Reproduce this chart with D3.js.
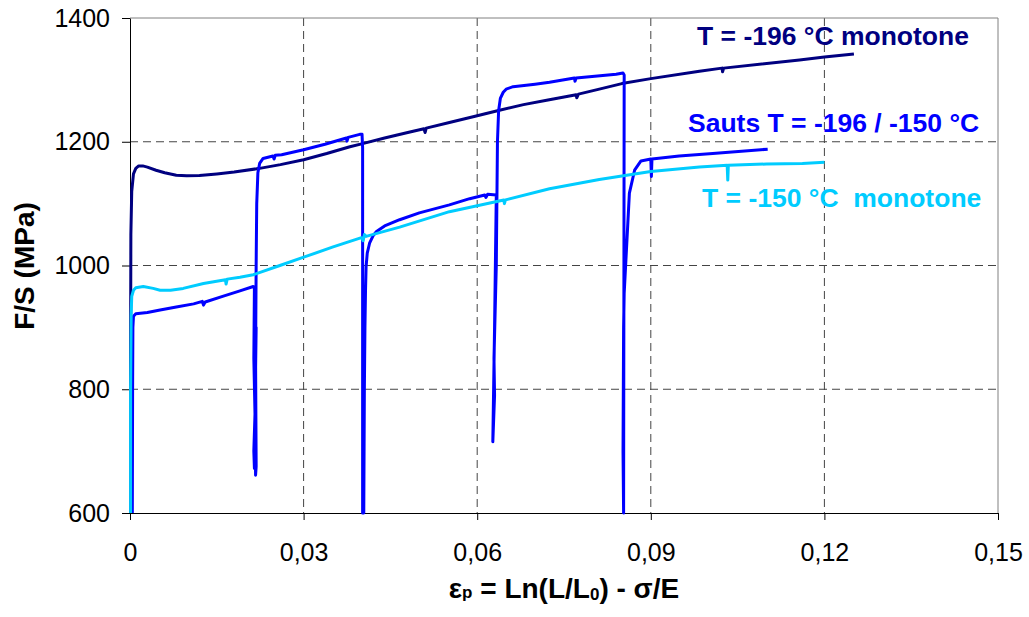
<!DOCTYPE html>
<html><head><meta charset="utf-8">
<script src="https://cdn.jsdelivr.net/npm/d3@7"></script>
<style>
html,body{margin:0;padding:0;background:#fff;}
text{font-family:"Liberation Sans",Arial,sans-serif;}
</style></head>
<body>
<svg id="chart" width="1029" height="617"></svg>
<script>
// ---- data (strain εp, stress MPa) ----
const xTicks = [0, 0.03, 0.06, 0.09, 0.12, 0.15];
const yTicks = [600, 800, 1000, 1200, 1400];

const mono196 = [[0.0001,600],[0.0001,850],[0.00015,1050],[0.0003,1120],[0.0006,1148],[0.001,1157],[0.0015,1161],[0.0022,1161],[0.003,1159],[0.0045,1154],[0.006,1150],[0.008,1146],[0.0098,1145],[0.012,1145.5],[0.015,1148],[0.018,1151],[0.0224,1157],[0.026,1163],[0.03,1171],[0.034,1181],[0.038,1192],[0.0402,1197],[0.044,1206],[0.048,1215],[0.0508,1221],[0.051,1215],[0.0512,1222],[0.0552,1231],[0.06,1242],[0.0635,1250],[0.068,1260],[0.072,1267],[0.0771,1276],[0.0772,1271],[0.0775,1277],[0.0811,1285],[0.085,1294],[0.09,1302],[0.0984,1314],[0.1023,1319],[0.1024,1313],[0.1026,1319],[0.1157,1332],[0.12,1337],[0.1251,1342]];

const sauts = [[0.0004,600],[0.00045,800],[0.0005,900],[0.0006,918],[0.001,922],[0.003,924],[0.0052,928],[0.008,933],[0.011,938],[0.0125,942],[0.0127,936],[0.013,941],[0.016,950],[0.019,959],[0.0213,966],[0.0215,965],[0.0214,850],[0.0216,760],[0.0214,700],[0.0215,672],[0.0217,690],[0.0216,820],[0.0218,900],[0.0216,760],[0.0217,661],[0.0218,675],[0.0217,850],[0.0218,1000],[0.0219,1100],[0.0221,1150],[0.0224,1165],[0.023,1173],[0.0247,1177],[0.0249,1172],[0.0251,1178],[0.0262,1179],[0.03,1187],[0.0337,1196],[0.0374,1206],[0.0375,1201],[0.0377,1207],[0.0397,1212],[0.0401,1212],[0.0402,1190],[0.0402,600],[0.0404,600],[0.0405,800],[0.0406,900],[0.0407,960],[0.0408,998],[0.041,1020],[0.0414,1036],[0.042,1048],[0.0426,1055],[0.044,1064],[0.0466,1074],[0.05,1085],[0.0552,1098],[0.0587,1108],[0.0613,1114],[0.0615,1110],[0.0618,1115],[0.0633,1114],[0.063,900],[0.0627,715],[0.063,790],[0.0629,850],[0.0633,1000],[0.0635,1200],[0.0637,1250],[0.064,1270],[0.0645,1280],[0.065,1285],[0.0662,1289],[0.07,1293],[0.0725,1296],[0.0768,1303],[0.0769,1298],[0.0771,1303],[0.084,1309],[0.0852,1311],[0.0854,1308],[0.0853,600],[0.0852,700],[0.0853,900],[0.0854,955],[0.0857,1009],[0.0863,1117],[0.0872,1154],[0.0883,1169],[0.09,1172],[0.0901,1144],[0.0902,1172],[0.0949,1177],[0.1007,1181],[0.1102,1188]];

const mono150 = [[0.0001,600],[0.0001,800],[0.0002,920],[0.0003,950],[0.0006,960],[0.001,964],[0.0023,966],[0.004,963],[0.0052,960],[0.007,960],[0.0092,963],[0.0127,971],[0.0165,977],[0.0166,970],[0.0168,978],[0.019,981],[0.0213,985],[0.0259,1000],[0.0299,1013],[0.0351,1030],[0.04,1045],[0.0403,1040],[0.0405,1050],[0.0408,1047],[0.0466,1062],[0.0552,1087],[0.0646,1106],[0.0647,1100],[0.0649,1106],[0.0725,1124],[0.0811,1139],[0.09,1152],[0.0984,1159],[0.1032,1162],[0.1033,1138],[0.1034,1162],[0.11,1164],[0.1162,1165],[0.12,1167]];

const seriesNames = ["T = -196 °C monotone", "Sauts T = -196 / -150 °C", "T = -150 °C  monotone"];
const seriesColors = ["#000080", "#0000FF", "#00CCFF"];

// ---- layout ----
const svg = d3.select("#chart");
const L = 130, R = 998, T = 18, B = 513;
const x = d3.scaleLinear().domain([0, 0.15]).range([L, R]);
const y = d3.scaleLinear().domain([600, 1400]).range([B, T]);
const fmtX = d => d === 0 ? "0" : d3.format(".2f")(d).replace(".", ",");

// grid
const grid = svg.append("g");
grid.selectAll("line.v").data(xTicks.filter(d => d > 0 && d < 0.15)).enter().append("line")
  .attr("x1", d => x(d)).attr("x2", d => x(d)).attr("y1", T).attr("y2", B)
  .attr("stroke", "#444").attr("stroke-width", 1).attr("stroke-dasharray", "8,5");
grid.selectAll("line.h").data(yTicks.filter(d => d > 600 && d < 1400)).enter().append("line")
  .attr("x1", L).attr("x2", R).attr("y1", d => y(d)).attr("y2", d => y(d))
  .attr("stroke", "#444").attr("stroke-width", 1).attr("stroke-dasharray", "8,5");
// top / right border
svg.append("path").attr("d", `M${L},${y(1400)}H${R}V${B}`).attr("fill", "none")
  .attr("stroke", "#808080").attr("stroke-width", 1);

// axes
const ax = svg.append("g").attr("transform", `translate(0,${B})`)
  .call(d3.axisBottom(x).tickValues(xTicks).tickFormat(fmtX).tickSize(7).tickSizeOuter(0).tickPadding(23));
const ay = svg.append("g").attr("transform", `translate(${L},0)`)
  .call(d3.axisLeft(y).tickValues(yTicks).tickFormat(d3.format("d")).tickSize(8).tickSizeOuter(0).tickPadding(12));
[ax, ay].forEach(g => {
  g.selectAll("path,line").attr("stroke", "#000").attr("stroke-width", 1);
  g.selectAll("text").attr("font-size", 25).attr("fill", "#000").attr("font-family", "Liberation Sans, Arial, sans-serif");
});

// lines (navy, then jumps, then -150 on top)
const line = d3.line().x(d => x(d[0])).y(d => y(d[1]));
const allSeries = [mono196, sauts, mono150];
svg.append("g").selectAll("path").data(allSeries).enter().append("path")
  .attr("d", line).attr("fill", "none")
  .attr("stroke", (d, i) => seriesColors[i]).attr("stroke-width", 3)
  .attr("stroke-linejoin", "round").attr("stroke-linecap", "butt");

// series labels
const labelPos = [[697, 45], [688, 132], [702, 207]];
svg.append("g").selectAll("text").data(seriesNames).enter().append("text")
  .attr("x", (d, i) => labelPos[i][0]).attr("y", (d, i) => labelPos[i][1])
  .attr("fill", (d, i) => seriesColors[i]).attr("font-size", 26.5).attr("font-weight", "bold")
  .attr("xml:space", "preserve").style("white-space", "pre")
  .text(d => d);

// axis titles
const xt = svg.append("text").attr("x", (L + R) / 2).attr("y", 598).attr("text-anchor", "middle")
  .attr("font-size", 28).attr("font-weight", "bold");
xt.append("tspan").text("ε");
xt.append("tspan").attr("font-size", 17).text("p");
xt.append("tspan").text(" = Ln(L/L");
xt.append("tspan").attr("font-size", 17).attr("dy", 2).text("0");
xt.append("tspan").attr("dy", -2).text(") - σ/E");

svg.append("text").attr("transform", "translate(34,266) rotate(-90)").attr("text-anchor", "middle")
  .attr("font-size", 28).attr("font-weight", "bold").text("F/S (MPa)");
</script>
</body></html>
